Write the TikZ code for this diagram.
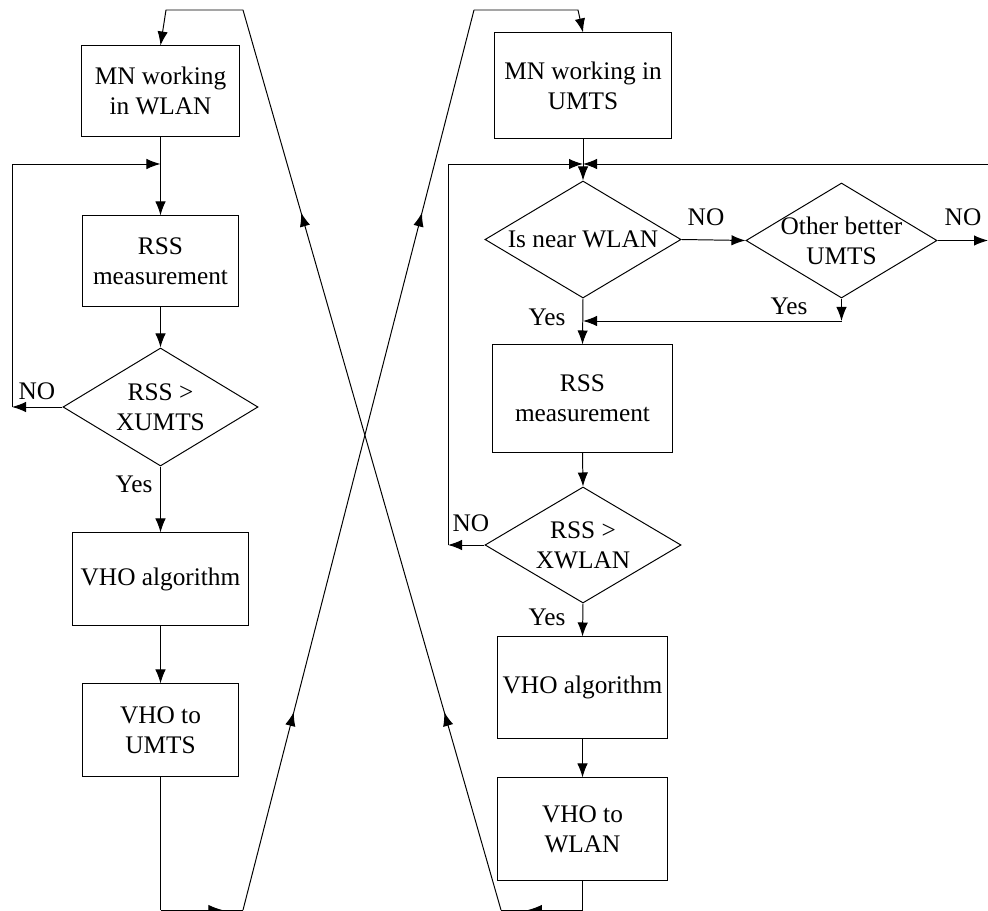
\documentclass[tikz,border=0pt]{standalone}
\usepackage{fontspec}
\setmainfont{Liberation Serif}
\usetikzlibrary{shapes.geometric,arrows.meta,decorations.markings}
\tikzset{
  box/.style={draw, rectangle, align=center, inner sep=0pt},
  decision/.style={draw, diamond, inner sep=0pt},
  midarrow/.style={postaction={decorate},
    decoration={markings, mark=at position #1 with {\arrow{>}}}},
  twoarrows/.style 2 args={postaction={decorate},
    decoration={markings, mark=at position #1 with {\arrow{>}},
      mark=at position #2 with {\arrow{>}}}},
}
\begin{document}
\begin{tikzpicture}[x=0.025cm, y=-0.025cm, line width=0.7pt,
    >={Latex[length=0.35cm,width=0.26cm]},
    font=\fontsize{18}{21.3}\selectfont]
\useasboundingbox (0,0) rectangle (988,911);

% left side: MN in WLAN
\node[box, minimum width=3.925cm, minimum height=2.25cm] (wlan) at (160.5,91) {MN working\\in WLAN};
\node[box, minimum width=3.9cm, minimum height=2.25cm] (rssL) at (160.5,261) {RSS\\measurement};
\node[decision, minimum width=4.875cm, minimum height=2.95cm,
  label={[align=center]center:{RSS >\\XUMTS}}] (cmpL) at (160.5,407) {};
\node[box, minimum width=4.375cm, minimum height=2.3cm] (vhoL) at (160.5,579) {VHO algorithm};
\node[box, minimum width=3.875cm, minimum height=2.3cm] (toumts) at (160.5,730) {VHO to\\UMTS};

\coordinate (jL) at (160.5,164);
\coordinate (lftL) at (12,407);
\draw[->] (wlan.south) -- (rssL.north);
\draw[->] (rssL.south) -- (cmpL.north);
\draw[->] (cmpL.west) -- (lftL);
\draw[->] (lftL) |- (jL);
\draw[->] (cmpL.south) -- (vhoL.north);
\draw[->] (vhoL.south) -- (toumts.north);
\node (noL) at (37,391) {NO};
\node (yesL) at (134,484) {Yes};

% right side: MN in UMTS
\node[box, minimum width=4.4cm, minimum height=2.625cm] (umts) at (583,85.5) {MN working in\\UMTS};
\node[decision, minimum width=4.9cm, minimum height=2.925cm,
  label={center:Is near WLAN}] (near) at (583,239.5) {};
\node[decision, minimum width=4.775cm, minimum height=2.875cm,
  label={[align=center]center:{Other better\\UMTS}}] (better) at (841.5,240.5) {};
\node[box, minimum width=4.5cm, minimum height=2.675cm] (rssR) at (582.5,398.5) {RSS\\measurement};
\node[decision, minimum width=4.9cm, minimum height=2.9cm,
  label={[align=center]center:{RSS >\\XWLAN}}] (cmpR) at (583,545) {};
\node[box, minimum width=4.225cm, minimum height=2.525cm] (vhoR) at (582.5,687.5) {VHO algorithm};
\node[box, minimum width=4.225cm, minimum height=2.55cm] (towlan) at (582.5,829) {VHO to\\WLAN};

\coordinate (jR) at (583,164);
\coordinate (rin) at (988,164);
\coordinate (rout) at (988,240.5);
\coordinate (lftR) at (448,545);
\coordinate (yb) at (841.5,321);
\coordinate (yj) at (583,321);
\draw[->] (umts.south) -- (near.north);
\draw[->] (rin) -- (jR);
\draw[->] (near.east) -- (better.west);
\draw[->] (better.east) -- (rout);
\draw[->] (better.south) -- (yb);
\draw[->] (yb) -- (yj);
\draw[->] (near.south) -- (rssR.north);
\draw[->] (rssR.south) -- (cmpR.north);
\draw[->] (cmpR.west) -- (lftR);
\draw[->] (lftR) |- (jR);
\draw[->] (cmpR.south) -- (vhoR.north);
\draw[->] (vhoR.south) -- (towlan.north);
\node (noA) at (706,217) {NO};
\node (noB) at (963,217) {NO};
\node (yesA) at (547,317) {Yes};
\node (yesB) at (789,306) {Yes};
\node (noR) at (471,523) {NO};
\node (yesR) at (547,617) {Yes};

% crossing back lines
\coordinate (bl1) at (160.5,910);
\coordinate (bl2) at (243,910);
\coordinate (tr1) at (474,10);
\coordinate (tr2) at (578,10);
\coordinate (br1) at (582.5,910);
\coordinate (br2) at (501,910);
\coordinate (tl1) at (243,10);
\coordinate (tl2) at (166,10);
\draw (toumts.south) -- (bl1);
\draw[midarrow=0.75] (bl1) -- (bl2);
\draw[twoarrows={0.22}{0.775}] (bl2) -- (tr1);
\draw[->] (tr1) -- (tr2) -- (umts.north);
\draw (towlan.south) -- (br1);
\draw[midarrow=0.67] (br1) -- (br2);
\draw[twoarrows={0.22}{0.775}] (br2) -- (tl1);
\draw[->] (tl1) -- (tl2) -- (wlan.north);
\end{tikzpicture}
\end{document}
